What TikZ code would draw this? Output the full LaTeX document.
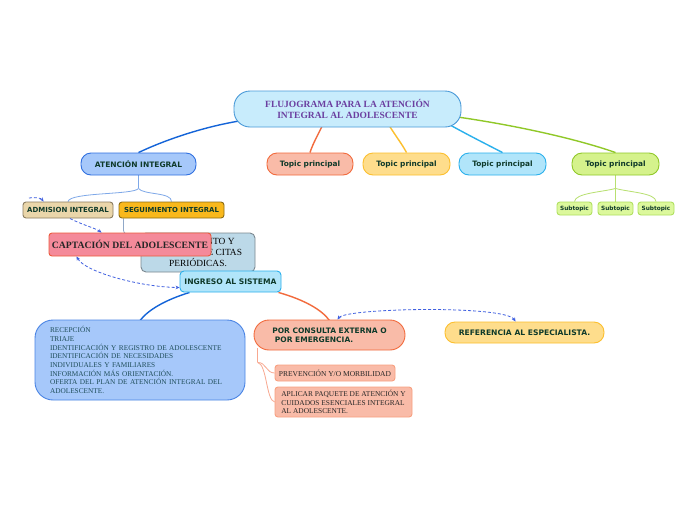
\documentclass[tikz,border=0pt]{standalone}
\usepackage{fontspec}
\setmainfont{Liberation Serif}
\newfontfamily\vsans{DejaVu Sans}
\usetikzlibrary{backgrounds,calc,arrows.meta}
\definecolor{txt}{HTML}{0F3A2A}
\definecolor{ttl}{HTML}{6B3FA0}
\definecolor{bigtxt}{HTML}{1F4E5A}
\definecolor{titlefill}{HTML}{C8ECFC}\definecolor{titledraw}{HTML}{4A9AD8}
\definecolor{bluefill}{HTML}{A6C8FA}\definecolor{bluedraw}{HTML}{3070E0}
\definecolor{redfill}{HTML}{F9BBA8}\definecolor{reddraw}{HTML}{F26A3C}
\definecolor{yelfill}{HTML}{FEDD8C}\definecolor{yeldraw}{HTML}{FCBF2E}
\definecolor{cyanfill}{HTML}{B1E5FA}\definecolor{cyandraw}{HTML}{2AB0EC}
\definecolor{grnfill}{HTML}{D5F28C}\definecolor{grndraw}{HTML}{90C828}
\definecolor{subfill}{HTML}{DCF89C}\definecolor{subdraw}{HTML}{B0E060}
\definecolor{admfill}{HTML}{EAD6AA}\definecolor{admdraw}{HTML}{8A7C60}
\definecolor{segfill}{HTML}{F9B81C}\definecolor{segdraw}{HTML}{8C6C14}
\definecolor{hidfill}{HTML}{BCD9E8}\definecolor{hiddraw}{HTML}{7C8890}
\definecolor{captfill}{HTML}{F48A9A}\definecolor{captdraw}{HTML}{EC5A3C}
\definecolor{bigdraw}{HTML}{4A84E4}
\definecolor{lordraw}{HTML}{F8A080}
\definecolor{mainblue}{HTML}{1464D8}
\definecolor{lightblue}{HTML}{7EA8E8}
\definecolor{lightgrn}{HTML}{B8E070}
\definecolor{lightorg}{HTML}{F8A890}
\definecolor{dashblue}{HTML}{4060E0}
\definecolor{greyblue}{HTML}{90A8C8}
\tikzset{
  box/.style={draw, line width=0.9pt, inner sep=0pt, align=center, text=txt},
  sanslbl/.style={font=\vsans\bfseries\fontsize{7.5}{9}\selectfont},
  sanssmall/.style={font=\vsans\bfseries\fontsize{7}{8}\selectfont},
  subtop/.style={box, fill=subfill, draw=subdraw, rounded corners=3pt, minimum width=35pt, minimum height=13pt, font=\vsans\bfseries\fontsize{5.8}{6.5}\selectfont},
  topic/.style={box, rounded corners=10pt, minimum width=87pt, minimum height=22pt, font=\vsans\bfseries\fontsize{7.4}{9}\selectfont},
  mainline/.style={line width=1.4pt},
  thinline/.style={line width=0.8pt},
  dashconn/.style={draw=dashblue, line width=0.8pt, dash pattern=on 3pt off 2pt},
  tipb/.tip={Stealth[length=4pt,width=3.6pt]}
}
\begin{document}
\begin{tikzpicture}[x=1pt,y=-1pt]
\useasboundingbox (0,0) rectangle (696,520);

\node[box, fill=titlefill, draw=titledraw, rounded corners=16pt, minimum width=227pt, minimum height=36pt, text=ttl, font=\bfseries\fontsize{9.5}{11}\selectfont] (title) at (347.5,109) {FLUJOGRAMA PARA LA ATENCIÓN\\INTEGRAL AL ADOLESCENTE};

\node[topic, fill=bluefill, draw=bluedraw, minimum width=115pt, font=\vsans\bfseries\fontsize{7.5}{9}\selectfont] (atn) at (138.5,164) {ATENCIÓN INTEGRAL};
\node[topic, fill=redfill, draw=reddraw, minimum width=86pt] (t1) at (310,164) {Topic principal};
\node[topic, fill=yelfill, draw=yeldraw] (t2) at (406.5,164) {Topic principal};
\node[topic, fill=cyanfill, draw=cyandraw] (t3) at (502.5,164) {Topic principal};
\node[topic, fill=grnfill, draw=grndraw] (t4) at (615.5,164) {Topic principal};

\node[subtop] (s1) at (574.5,208.5) {Subtopic};
\node[subtop] (s2) at (615.5,208.5) {Subtopic};
\node[subtop, minimum width=36pt] (s3) at (656,208.5) {Subtopic};

\node[box, fill=admfill, draw=admdraw, rounded corners=3pt, minimum width=90pt, minimum height=16pt, sanssmall] (adm) at (68,210) {ADMISION INTEGRAL};
\node[box, fill=segfill, draw=segdraw, rounded corners=3pt, minimum width=105pt, minimum height=16pt, font=\vsans\bfseries\fontsize{6.9}{8}\selectfont] (seg) at (171.5,210) {SEGUIMIENTO INTEGRAL};

\node[box, fill=hidfill, draw=hiddraw, rounded corners=5pt, minimum width=114pt, minimum height=39pt, text=black, font=\fontsize{9.4}{11}\selectfont] (hid) at (198,252.5) {SEGUIMIENTO Y\\CONTROL DE CITAS\\PERIÓDICAS.};
\node[box, fill=captfill, draw=captdraw, rounded corners=3pt, minimum width=162pt, minimum height=23pt, text=black!85, font=\bfseries\fontsize{9.7}{11}\selectfont] (capt) at (130,244.5) {CAPTACIÓN DEL ADOLESCENTE};
\node[box, fill=cyanfill, draw=cyandraw, rounded corners=4pt, minimum width=101pt, minimum height=21pt, font=\vsans\bfseries\fontsize{7.6}{9}\selectfont] (ing) at (230.5,281.5) {INGRESO AL SISTEMA};

\node[box, fill=bluefill, draw=bigdraw, rounded corners=18pt, minimum width=210pt, minimum height=80pt, text=bigtxt, align=left, text width=180pt, font=\fontsize{7.3}{8.7}\selectfont] (big) at (140,360) {RECEPCIÓN\\TRIAJE\\IDENTIFICACIÓN Y REGISTRO DE ADOLESCENTE\\IDENTIFICACIÓN DE NECESIDADES\\INDIVIDUALES Y FAMILIARES\\INFORMACIÓN MÁS ORIENTACIÓN.\\OFERTA DEL PLAN DE ATENCIÓN INTEGRAL DEL\\ADOLESCENTE.};

\node[box, fill=redfill, draw=reddraw, rounded corners=15pt, minimum width=151pt, minimum height=30pt, align=left, font=\vsans\bfseries\fontsize{7.5}{9}\selectfont] (por) at (329.5,335) {POR CONSULTA EXTERNA O\\\ POR EMERGENCIA.};
\node[box, fill=yelfill, draw=yeldraw, rounded corners=10pt, minimum width=159pt, minimum height=21pt, font=\vsans\bfseries\fontsize{7.6}{9}\selectfont] (ref) at (524.5,332.5) {REFERENCIA AL ESPECIALISTA.};

\node[box, fill=redfill, draw=lordraw, rounded corners=3pt, minimum width=120pt, minimum height=16pt, text=black!85, font=\fontsize{7.5}{8}\selectfont] (prev) at (335,373) {PREVENCIÓN Y/O MORBILIDAD};
\node[box, fill=redfill, draw=lordraw, rounded corners=3pt, minimum width=137pt, minimum height=30pt, text=black!85, align=left, font=\fontsize{7.4}{8.8}\selectfont] (apl) at (343.5,402) {APLICAR PAQUETE DE ATENCIÓN Y\\CUIDADOS ESENCIALES INTEGRAL\\AL ADOLESCENTE.};

\coordinate (dfree) at (29,198);

\begin{scope}[on background layer]
\fill[white] (0,0) rectangle (696,520);
% main branches from the title
\draw[mainline, draw=mainblue] (atn.north) .. controls (165,140) and (205,126) .. ($(title.center)+(-102,11)$);
\draw[mainline, draw=reddraw] (t1.north) .. controls (313,143) and (319,133) .. ($(title.center)+(-22,10)$);
\draw[mainline, draw=yeldraw] (t2.north) .. controls (401,142) and (393,133) .. ($(title.center)+(38,10)$);
\draw[mainline, draw=cyandraw] (t3.north) .. controls (486,144) and (462,132) .. ($(title.center)+(92,10)$);
\draw[mainline, draw=grndraw] (t4.north) .. controls (580,140) and (520,126) .. ($(title.center)+(110,8)$);
% subtopics
\coordinate (gj) at ($(t4.south)+(0,13)$);
\draw[thinline, draw=lightgrn] (t4.south) -- (gj);
\draw[thinline, draw=lightgrn] (gj) .. controls (603,192) and (575,193) .. (s1.north);
\draw[thinline, draw=lightgrn] (gj) -- (s2.north);
\draw[thinline, draw=lightgrn] (gj) .. controls (628,192) and (656,193) .. (s3.north);
% atencion children
\coordinate (bj) at ($(atn.south)+(0,13)$);
\draw[thinline, draw=lightblue] (atn.south) -- (bj);
\draw[thinline, draw=lightblue] (bj) .. controls (134,195) and (70,192) .. (adm.north);
\draw[thinline, draw=lightblue] (bj) .. controls (143,195) and (172,192) .. (seg.north);
\draw[thinline, draw=greyblue] ($(seg.south west)+(5,0)$) -- ++(0,12) .. controls +(0,3) and +(-3,0) .. ($(hid.north west)+(-10,3)$) -- (hid.west);
% ingreso branches
\draw[mainline, draw=mainblue] ($(ing.south west)+(10,0)$) .. controls (165,300) and (148,310) .. ($(big.north)+(0,1)$);
\draw[mainline, draw=reddraw] ($(ing.south east)+(-3,0)$) .. controls (305,300) and (322,310) .. ($(por.north)+(0,1)$);
% por consulta children
\coordinate (oj) at ($(por.south west)+(4,12)$);
\draw[thinline, draw=lightorg] ($(por.south west)+(4,-2)$) -- (oj);
\draw[thinline, draw=lightorg] (oj) .. controls (266,362) and (266,373) .. (prev.west);
\draw[thinline, draw=lightorg] (oj) .. controls (267,364) and (266,400) .. (apl.west);
\end{scope}

% dashed relations
\draw[dashconn, -{tipb}] (dfree) .. controls (35,197) and (41,198) .. ($(adm.north west)+(21,0)$);
\draw[dashconn, -{tipb}] ($(adm.south)+(2,0)$) .. controls (80,224) and (95,228) .. ($(capt.north west)+(53,0)$);
\draw[dashconn, {tipb}-{tipb}] ($(capt.south west)+(28,0)$) .. controls (85,272) and (140,287) .. ($(ing.west)+(0,6)$);
\draw[dashconn, {tipb}-{tipb}] ($(por.north)+(8,0)$) .. controls (346,308) and (505,305) .. ($(ref.north)+(-9,0)$);
\end{tikzpicture}
\end{document}
